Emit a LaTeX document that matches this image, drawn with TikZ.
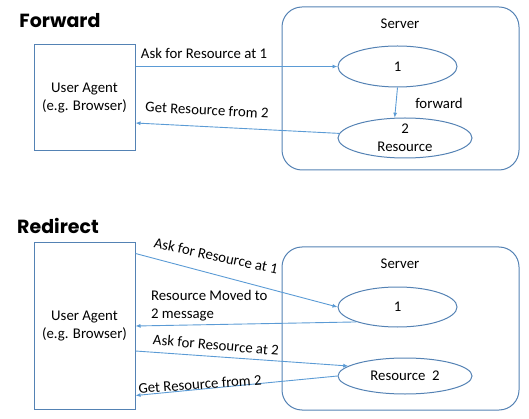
\documentclass[tikz,border=0pt]{standalone}
\usepackage{fontspec}
\setmainfont{Carlito}
\newfontfamily\titlefont{Poppins}
\usetikzlibrary{shapes.geometric,arrows.meta}

\definecolor{boxblue}{RGB}{84,130,180}
\definecolor{arrowblue}{RGB}{91,155,213}

\tikzset{
  agent/.style={draw=boxblue, line width=1pt, minimum width=101pt, align=center},
  server/.style={draw=boxblue, line width=1pt, rounded corners=20pt,
    minimum width=237pt, minimum height=163pt},
  res/.style={ellipse, draw=boxblue, line width=1pt, inner sep=0pt, align=center},
  msg/.style={draw=arrowblue, line width=0.9pt, -{Latex[length=5pt,width=4pt]}},
  title/.style={font=\titlefont\bfseries\fontsize{19}{22}\selectfont},
}

\begin{document}
\begin{tikzpicture}[x=1pt, y=-1pt, font=\fontsize{14.8}{18}\selectfont]
    \useasboundingbox (0,0) rectangle (529,419);

    % Forward: cliente y servidor
    \node[title] (tfwd) at (60,21) {Forward};
    \node[agent, minimum height=106pt] (ua1) at (84.5,98) {User Agent\\(e.g. Browser)};
    \node[server] (srv1) at (400.5,88.5) {};
    \node (lsrv1) at (400,24) {Server};
    \node[res, minimum width=119pt, minimum height=41pt] (r1) at (397.5,66.5) {1};
    \node[res, minimum width=134pt, minimum height=40pt] (r2) at (405,138) {2\\Resource};

    % Forward: mensajes
    \draw[msg] (ua1.east |- r1.west) -- (r1.west);
    \draw[msg] (r1.south) -- (r2.117);
    \draw[msg] (r2.176) -- ([yshift=-25pt]ua1.east);

    % Forward: etiquetas
    \node (q1) at (204,53) {Ask for Resource at 1};
    \node[rotate=-3] (g1) at (207,110) {Get Resource from 2};
    \node (fw) at (439,103) {forward};

    % Redirect: cliente y servidor
    \node[title] (tred) at (58,226) {Redirect};
    \node[agent, minimum height=166pt] (ua2) at (84.5,326) {User Agent\\(e.g. Browser)};
    \node[server] (srv2) at (400.5,328.5) {};
    \node (lsrv2) at (400,264) {Server};
    \node[res, minimum width=119pt, minimum height=40pt] (r3) at (397.5,307) {1};
    \node[res, minimum width=134pt, minimum height=36pt] (r4) at (405,376) {Resource\ \ 2};

    % Redirect: mensajes
    \draw[msg] ([yshift=-11pt]ua2.north east) -- (r3.west);
    \draw[msg] (r3.200) -- (ua2.east);
    \draw[msg] ([yshift=-25pt]ua2.east) -- (r4.170);
    \draw[msg] (r4.west) -- ([yshift=14pt]ua2.south east);

    % Redirect: etiquetas
    \node[rotate=-12] (q2) at (216,256) {Ask for Resource at 1};
    \node[align=left, anchor=west] (mv) at (147.5,306) {Resource Moved to\\2 message};
    \node[rotate=-5] (q3) at (216,345) {Ask for Resource at 2};
    \node[rotate=4] (g2) at (200,384) {Get Resource from 2};
\end{tikzpicture}
\end{document}
